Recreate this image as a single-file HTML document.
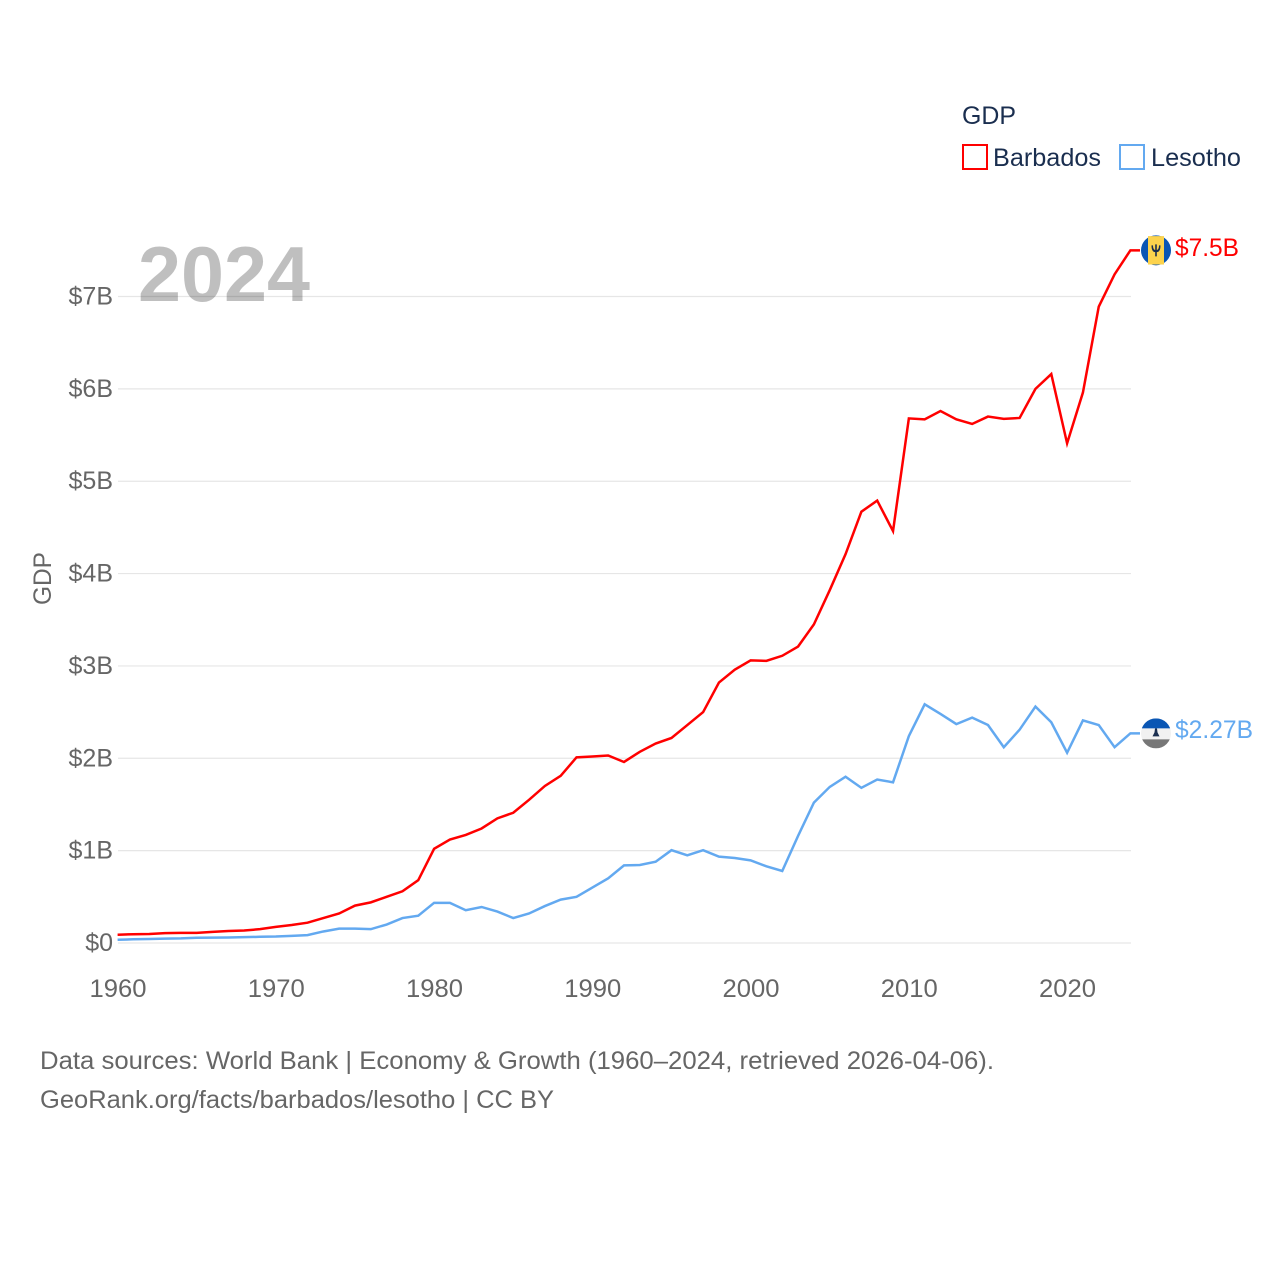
<!DOCTYPE html>
<html lang="en">
<head>
<meta charset="utf-8">
<title>GDP: Barbados and Lesotho</title>
<style>
html,body{margin:0;padding:0;background:#fff;}
svg{display:block;font-family:"Liberation Sans",sans-serif;}
</style>
</head>
<body>
<svg id="chart" width="1280" height="1280" viewBox="0 0 1280 1280" xmlns="http://www.w3.org/2000/svg">
  <rect x="0" y="0" width="1280" height="1280" fill="#ffffff"/>
  <g id="grid"></g>
  <g id="ylabels"></g>
  <g id="xlabels"></g>
  <text transform="translate(51,578.5) rotate(-90)" text-anchor="middle" font-size="25" fill="#666666" textLength="53" lengthAdjust="spacingAndGlyphs">GDP</text>
  <text x="138" y="301" font-size="78" font-weight="700" fill="#000000" fill-opacity="0.25" textLength="172" lengthAdjust="spacingAndGlyphs">2024</text>
  <g id="series"></g>

  <g id="flag-barbados" transform="translate(1156,250)">
    <circle r="15" fill="#0a56b4"/>
    <rect x="-8" y="-14.2" width="16" height="28.4" fill="#fcd34d"/>
    <path d="M-4.5,-5 C-4.5,0 -3,1.5 -0.8,1.8 L-0.8,6 L0.8,6 L0.8,1.8 C3,1.5 4.5,0 4.5,-5 L3,-5 C3,-2 2,-0.6 0.8,-0.3 L0.8,-6 L-0.8,-6 L-0.8,-0.3 C-2,-0.6 -3,-2 -3,-5 Z" fill="#1a2e4f"/>
  </g>
  <g id="flag-lesotho" transform="translate(1156,732)">
    <clipPath id="les-clip"><circle r="15"/></clipPath>
    <g clip-path="url(#les-clip)">
      <rect x="-15" y="-15" width="30" height="30" fill="#f1f1f1"/>
      <rect x="-15" y="-15" width="30" height="10" fill="#0a56b4"/>
      <rect x="-15" y="6" width="30" height="9" fill="#777777"/>
      <path d="M-3.5,3 L3.5,3 L1.5,-1 L1,-5 L-1,-5 L-1.5,-1 Z" fill="#1a2e4f"/>
    </g>
  </g>
  <text x="1175" y="256" font-size="25" fill="#ff0000" textLength="64" lengthAdjust="spacingAndGlyphs">$7.5B</text>
  <text x="1175" y="738" font-size="25" fill="#63a9f0" textLength="78" lengthAdjust="spacingAndGlyphs">$2.27B</text>

  <g>
    <text x="962" y="124" font-size="25" fill="#1a2e4f" textLength="54" lengthAdjust="spacingAndGlyphs">GDP</text>
    <g>
      <rect x="963" y="145" width="24" height="24" fill="#ffffff" stroke="#ff0000" stroke-width="2"/>
      <text x="993" y="166" font-size="25" fill="#1a2e4f" textLength="108" lengthAdjust="spacingAndGlyphs">Barbados</text>
    </g>
    <g>
      <rect x="1120" y="145" width="24" height="24" fill="#ffffff" stroke="#63a9f0" stroke-width="2"/>
      <text x="1151" y="166" font-size="25" fill="#1a2e4f" textLength="90" lengthAdjust="spacingAndGlyphs">Lesotho</text>
    </g>
  </g>

  <g>
    <text x="40" y="1069" font-size="25" fill="#666666" textLength="954" lengthAdjust="spacingAndGlyphs">Data sources: World Bank | Economy &amp; Growth (1960–2024, retrieved 2026-04-06).</text>
    <text x="40" y="1108" font-size="25" fill="#666666" textLength="514" lengthAdjust="spacingAndGlyphs">GeoRank.org/facts/barbados/lesotho | CC BY</text>
  </g>
</svg>
<script>
const startYear = 1960;
const endYear = 2024;
const xTickYears = [1960, 1970, 1980, 1990, 2000, 2010, 2020];
const yTickValues = [0, 1, 2, 3, 4, 5, 6, 7];
const yTickLabels = ["$0", "$1B", "$2B", "$3B", "$4B", "$5B", "$6B", "$7B"];
const barbadosGdp = [
  0.09, 0.095, 0.097, 0.107, 0.109, 0.11, 0.12, 0.13, 0.135, 0.15,
  0.175, 0.195, 0.22, 0.27, 0.32, 0.405, 0.44, 0.5, 0.56, 0.68,
  1.02, 1.12, 1.17, 1.24, 1.35, 1.41, 1.55, 1.7, 1.81, 2.01,
  2.02, 2.03, 1.96, 2.07, 2.16, 2.22, 2.36, 2.5, 2.82, 2.96,
  3.06, 3.055, 3.11, 3.21, 3.45, 3.82, 4.21, 4.67, 4.79, 4.46,
  5.68, 5.67, 5.76, 5.67, 5.62, 5.7, 5.675, 5.685, 6.0, 6.16,
  5.41, 5.96, 6.89, 7.24, 7.5
];
const lesothoGdp = [
  0.035, 0.04, 0.043, 0.047, 0.05, 0.057, 0.058, 0.06, 0.063, 0.067,
  0.07, 0.077, 0.085, 0.125, 0.155, 0.155, 0.15, 0.2, 0.27, 0.295,
  0.435, 0.435, 0.355, 0.39, 0.34, 0.27, 0.32, 0.4, 0.47, 0.5,
  0.6, 0.7, 0.84, 0.845, 0.88, 1.005, 0.95, 1.005, 0.935, 0.92,
  0.895, 0.83, 0.78, 1.16, 1.52, 1.69, 1.8, 1.68, 1.77, 1.74,
  2.24, 2.585, 2.48, 2.37, 2.44, 2.36, 2.12, 2.31, 2.56, 2.39,
  2.06, 2.41, 2.36, 2.12, 2.27
];

const SVG_NS = "http://www.w3.org/2000/svg";
function xScale(year) {
  return 117.6 + (year - startYear) * (1130.4 - 117.6) / (endYear - startYear);
}
function yScale(value) {
  return 943 - value * (943 - 296.5) / 7;
}
function make(tag, attrs) {
  const el = document.createElementNS(SVG_NS, tag);
  for (const key in attrs) el.setAttribute(key, attrs[key]);
  return el;
}

const grid = document.getElementById("grid");
const ylabels = document.getElementById("ylabels");
const xlabels = document.getElementById("xlabels");
const seriesGroup = document.getElementById("series");

yTickValues.forEach(function (v, i) {
  const line = make("line", { x1: 118, x2: 1131, y1: yScale(v), y2: yScale(v), stroke: "#e6e6e6", "stroke-width": 1.2 });
  
  
  grid.appendChild(line);

  const label = make("text", { x: 113, y: yScale(v) + 8, "text-anchor": "end", "font-size": 25, fill: "#666666" });
  
  
  label.textContent = yTickLabels[i];
  ylabels.appendChild(label);
});

xTickYears.forEach(function (year) {
  const label = make("text", { x: xScale(year) + 0.4, y: 997, "text-anchor": "middle", "font-size": 25, fill: "#666666", textLength: 57, lengthAdjust: "spacingAndGlyphs" });
  
  
  label.textContent = String(year);
  xlabels.appendChild(label);
});

function drawSeries(values, color) {
  let d = "";
  values.forEach(function (v, i) {
    d += (i ? "L" : "M") + xScale(startYear + i).toFixed(2) + "," + yScale(v).toFixed(2);
  });
  const last = values[values.length - 1];
  d += "L" + (xScale(endYear) + 9.6).toFixed(2) + "," + yScale(last).toFixed(2);
  const path = make("path", { d: d, fill: "none", stroke: color, "stroke-width": 2.5, "stroke-linejoin": "miter" });
  return path;
}

const blueLine = drawSeries(lesothoGdp, "#63a9f0");


seriesGroup.appendChild(blueLine);

const redLine = drawSeries(barbadosGdp, "#ff0000");


seriesGroup.appendChild(redLine);

document.getElementById("flag-barbados").setAttribute("transform", "translate(1156," + yScale(barbadosGdp[barbadosGdp.length - 1]) + ")");
document.getElementById("flag-lesotho").setAttribute("transform", "translate(1156," + yScale(lesothoGdp[lesothoGdp.length - 1]) + ")");
</script>
</body>
</html>
